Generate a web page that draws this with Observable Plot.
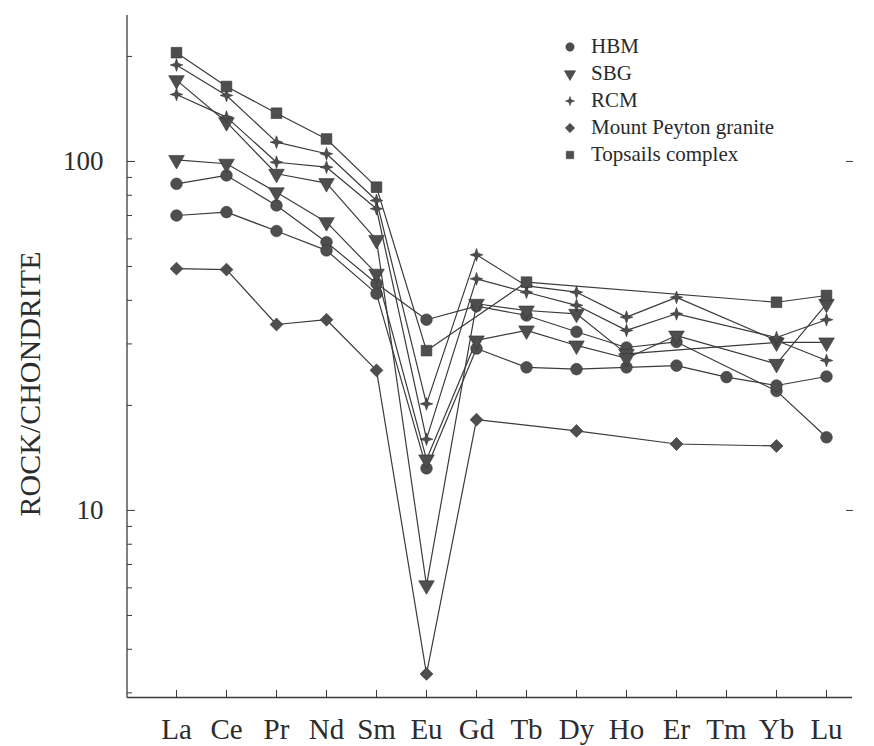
<!DOCTYPE html>
<html>
<head>
<meta charset="utf-8">
<script src="https://cdn.jsdelivr.net/npm/d3@7"></script>
<script src="https://cdn.jsdelivr.net/npm/@observablehq/plot@0.6"></script>
<style>
  html, body { margin: 0; padding: 0; background: #ffffff; }
  #wrap { position: relative; width: 874px; height: 746px; }
  #legend { position: absolute; left: 560px; top: 33px; font-family: "Liberation Serif", "DejaVu Serif", serif; font-size: 21px; color: #2a2a2a; }
  #legend .row { height: 27px; display: flex; align-items: center; white-space: nowrap; }
  #legend svg { width: 20px; height: 20px; margin-right: 11px; flex: none; }
  #ytitle { position: absolute; left: 30px; top: 384px; transform: translate(-50%, -50%) rotate(-90deg);
            font-family: "Liberation Serif", "DejaVu Serif", serif; font-size: 30px; color: #2c2c2c; white-space: nowrap; line-height: 1; }
</style>
</head>
<body>
<div id="wrap"><div id="legend"></div><div id="ytitle"></div></div>
<script>
// ---- data ----
const elements = ["La","Ce","Pr","Nd","Sm","Eu","Gd","Tb","Dy","Ho","Er","Tm","Yb","Lu"];
const yTickLabels = [10, 100];
const yMinorTicks = [3,4,5,6,7,8,9,20,30,40,50,60,70,80,90,200];
const groups = ["HBM","SBG","RCM","Mount Peyton granite","Topsails complex"];
const yTitle = "ROCK/CHONDRITE";

const hbm1 = [86.3, 91.2, 74.8, 58.7, 44.7, 35.2, 38.5, 36.2, 32.5, 29.3, 30.4, null, 22.0, 16.2];
const hbm2 = [70.0, 71.6, 63.2, 55.6, 41.8, 13.2, 29.1, 25.7, 25.4, 25.7, 26.0, 24.1, 22.8, 24.2];
const sbg1 = [171, 129.6, 92.2, 86.7, 59.6, 6.1, 39.1, 37.4, 36.6, 28.1, null, null, 30.3, 30.3];
const sbg2 = [101, 98.5, 81.6, 67.0, 47.7, 14.0, 30.7, 32.8, 29.7, 27.3, 31.7, null, 26.3, 39.1];
const rcm1 = [189, 154.6, 113.6, 105.2, 77.3, 20.2, 54.0, 44.0, 42.2, 35.8, 40.8, null, 30.7, 26.9];
const rcm2 = [155.6, 134, 99.5, 96.3, 73.2, 16.0, 46.1, 42.2, 38.7, 32.8, 36.6, null, 31.3, 35.2];
const mtp  = [49.3, 49.0, 34.1, 35.2, 25.2, 3.4, 18.2, null, 16.9, null, 15.5, null, 15.3, null];
const tops = [205, 164, 137.5, 116, 84.4, 28.7, null, 45.1, null, null, null, null, 39.5, 41.3];

const samples = [
  {group: "HBM", sample: "HBM-1", values: hbm1},
  {group: "HBM", sample: "HBM-2", values: hbm2},
  {group: "SBG", sample: "SBG-1", values: sbg1},
  {group: "SBG", sample: "SBG-2", values: sbg2},
  {group: "RCM", sample: "RCM-1", values: rcm1},
  {group: "RCM", sample: "RCM-2", values: rcm2},
  {group: "Mount Peyton granite", sample: "MP-1", values: mtp},
  {group: "Topsails complex", sample: "TC-1", values: tops}
];

// ---- symbols ----
const downTriangle = {draw(ctx, size) {
  const a = Math.sqrt(size * 4 / Math.sqrt(3)), h = a * Math.sqrt(3) / 2;
  ctx.moveTo(-a / 2, -h / 3); ctx.lineTo(a / 2, -h / 3); ctx.lineTo(0, 2 * h / 3); ctx.closePath();
}};
const star4 = {draw(ctx, size) {
  const R = Math.sqrt(size) * 0.62, r = R * 0.36;
  for (let i = 0; i < 8; i++) {
    const ang = i * Math.PI / 4 - Math.PI / 2, rad = i % 2 === 0 ? R : r;
    const px = rad * Math.cos(ang), py = rad * Math.sin(ang);
    if (i === 0) ctx.moveTo(px, py); else ctx.lineTo(px, py);
  }
  ctx.closePath();
}};
const symbolOf = {
  "HBM": d3.symbolCircle,
  "SBG": downTriangle,
  "RCM": star4,
  "Mount Peyton granite": d3.symbolDiamond2,
  "Topsails complex": d3.symbolSquare
};

const rows = samples.flatMap(s => elements.map((el, i) => ({el, v: s.values[i], sample: s.sample, group: s.group})))
  .filter(d => d.v != null);

const ink = "#3b3b3b";
const markFill = "#4e4e4e";
const font = "Liberation Serif";

const spineLeft = (index, scales, values, dim) => {
  const g = d3.create("svg:g");
  g.append("line")
    .attr("x1", dim.marginLeft).attr("x2", dim.marginLeft)
    .attr("y1", dim.marginTop).attr("y2", dim.height - dim.marginBottom + 0.5)
    .attr("stroke", ink).attr("stroke-width", 1.3);
  return g.node();
};

const chart = Plot.plot({
  width: 874,
  height: 746,
  marginLeft: 127,
  marginRight: 22,
  marginTop: 15,
  marginBottom: 49,
  style: {fontFamily: font, background: "transparent", color: "#2c2c2c"},
  x: {type: "point", domain: elements, padding: 0, insetLeft: 47, insetRight: 24, label: null},
  y: {type: "log", domain: [2.91, 262], label: null},
  marks: [
    spineLeft,
    Plot.ruleY([2.91], {stroke: ink, strokeWidth: 1.3}),
    Plot.axisX({tickSize: 0, tickPadding: 21, fontSize: 29, label: null}),
    Plot.axisX({tickSize: -7, tickFormat: () => "", label: null, stroke: ink}),
    Plot.axisY({ticks: yTickLabels, tickSize: 0, tickPadding: 24, fontSize: 27, tickFormat: d => String(d), label: null}),
    Plot.axisY({ticks: yTickLabels, tickSize: -8, tickFormat: () => "", label: null, stroke: ink}),
    Plot.axisY({ticks: yMinorTicks, tickSize: -5, tickFormat: () => "", label: null, stroke: ink}),
    Plot.axisY({anchor: "right", ticks: yTickLabels, tickSize: -7, tickFormat: () => "", label: null, stroke: ink}),
    Plot.line(rows, {x: "el", y: "v", z: "sample", stroke: ink, strokeWidth: 1.2}),
    ...groups.map(g => Plot.dot(rows.filter(d => d.group === g), {
      x: "el", y: "v", symbol: symbolOf[g], r: g === "Topsails complex" ? 6 : 5.8,
      fill: markFill, stroke: "#333", strokeWidth: 0.6
    }))
  ]
});
document.getElementById("wrap").prepend(chart);
document.getElementById("ytitle").textContent = yTitle;

// ---- legend ----
const legend = d3.select("#legend");
groups.forEach(g => {
  const row = legend.append("div").attr("class", "row");
  const svg = row.append("svg").attr("viewBox", "-10 -10 20 20");
  svg.append("path")
    .attr("d", d3.symbol(symbolOf[g], Math.PI * 4.2 * 4.2)())
    .attr("fill", markFill).attr("stroke", "#333").attr("stroke-width", 0.5);
  row.append("span").text(g);
});
</script>
</body>
</html>
